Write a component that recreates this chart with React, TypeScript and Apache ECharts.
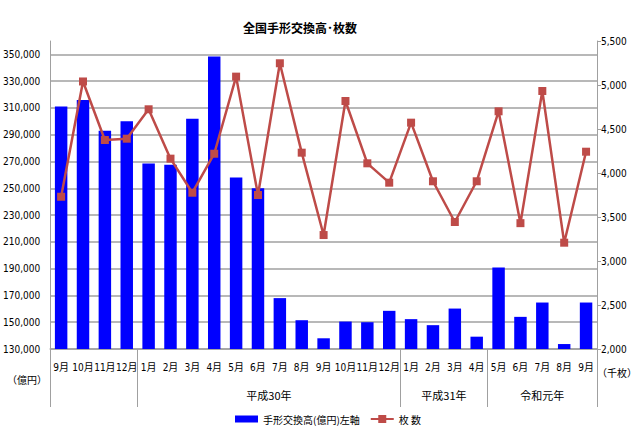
import React, { useEffect, useRef } from 'react';
import * as echarts from 'echarts';

const months = ['9月', '10月', '11月', '12月', '1月', '2月', '3月', '4月', '5月', '6月', '7月', '8月', '9月', '10月', '11月', '12月', '1月', '2月', '3月', '4月', '5月', '6月', '7月', '8月', '9月'];
const amounts = [311000, 316000, 293000, 300000, 268500, 267500, 302000, 348500, 258000, 250000, 168000, 151500, 138000, 150500, 150000, 158500, 152300, 147800, 160200, 139200, 190900, 154000, 164700, 133700, 164700];
const counts = [3730, 5040, 4375, 4390, 4724, 4163, 3776, 4219, 5095, 3750, 5247, 4231, 3295, 4818, 4110, 3890, 4572, 3906, 3443, 3906, 4701, 3430, 4932, 3208, 4242];
const groupLabels = ['', '平成30年', '平成31年', '令和元年'];
const groupStarts = [0, 4, 16, 20];
const groupEnds = [4, 16, 20, 25];

const leftMin = 130000;
const leftMax = 360000;
const leftStep = 20000;
const rightMin = 2000;
const rightMax = 5500;
const rightStep = 500;

const title = '全国手形交換高･枚数';
const barName = '手形交換高(億円)左軸';
const lineName = '枚 数';
const leftUnit = '（億円）';
const rightUnit = '（千枚）';

const FONT = "'Liberation Sans Narrow', 'DejaVu Sans Condensed', 'Noto Sans CJK JP', sans-serif";
const CJK = "'Noto Sans CJK JP', sans-serif";

export default function App() {
  const ref = useRef<HTMLDivElement>(null);
  useEffect(() => {
    document.body.style.margin = '0';
    const chart = echarts.init(ref.current!, null, { renderer: 'svg' });
    const halfCount = months.length * 2 + 1;
    const halfData = Array.from({ length: halfCount }, (_, i) => 'h' + i);
    const labelAt: Record<number, string> = {};
    const boundaries = new Set<number>();
    groupLabels.forEach((g, k) => {
      if (g) labelAt[groupStarts[k] + groupEnds[k]] = g;
      boundaries.add(groupStarts[k] * 2);
      boundaries.add(groupEnds[k] * 2);
    });
    const grey = '#a0a0a0';
    chart.setOption({
      animation: false,
      title: {
        text: title,
        left: 243,
        top: 21,
        padding: 0,
        textStyle: { fontFamily: CJK, fontSize: 12, fontWeight: 'bold', color: '#000' },
      },
      legend: {
        left: 230,
        top: 409,
        itemWidth: 23,
        itemHeight: 10,
        itemGap: 10,
        textStyle: { fontFamily: CJK, fontSize: 10, color: '#000' },
        data: [
          { name: barName, icon: 'path://M0,0h23v7h-23z' },
          { name: lineName },
        ],
      },
      grid: { left: 49, right: 43, top: 41, bottom: 93 },
      xAxis: [
        {
          type: 'category',
          data: months,
          position: 'bottom',
          axisLine: { show: true, lineStyle: { color: grey, width: 1.5 } },
          axisTick: { show: false },
          axisLabel: { interval: 0, margin: 13, fontFamily: FONT, fontSize: 10, color: '#000' },
        },
        {
          type: 'category',
          data: halfData,
          position: 'bottom',
          boundaryGap: false,
          axisLine: { show: false },
          axisTick: {
            show: true,
            length: 58,
            interval: (i: number) => boundaries.has(i),
            lineStyle: { color: grey, width: 1 },
          },
          axisLabel: {
            interval: 0,
            margin: 40,
            fontFamily: CJK,
            fontSize: 11,
            color: '#000',
            formatter: (_v: string, i: number) => labelAt[i] || '',
          },
          splitLine: { show: false },
        },
      ],
      yAxis: [
        {
          type: 'value',
          min: leftMin,
          max: leftMax,
          interval: leftStep,
          axisLine: { show: true, lineStyle: { color: grey, width: 1 } },
          axisTick: { show: false },
          splitLine: { show: true, showMaxLine: false, lineStyle: { color: grey, width: 1.5 } },
          axisLabel: {
            margin: 10,
            fontFamily: FONT,
            fontSize: 10,
            color: '#000',
            showMaxLabel: false,
            formatter: (v: number) => (v === leftMax ? '' : v.toLocaleString('en-US')),
          },
        },
        {
          type: 'value',
          position: 'right',
          min: rightMin,
          max: rightMax,
          interval: rightStep,
          axisLine: { show: true, lineStyle: { color: grey, width: 1 } },
          axisTick: { show: true, length: 4, lineStyle: { color: grey } },
          splitLine: { show: false },
          axisLabel: {
            margin: 4,
            fontFamily: FONT,
            fontSize: 10,
            color: '#000',
            formatter: (v: number) => v.toLocaleString('en-US'),
          },
        },
      ],
      graphic: [
        { type: 'text', left: 7, top: 374, style: { text: leftUnit, font: `10px ${CJK}`, fill: '#000' } },
        { type: 'text', left: 597, top: 367, style: { text: rightUnit, font: `10px ${CJK}`, fill: '#000' } },
      ],
      series: [
        {
          name: barName,
          type: 'bar',
          xAxisIndex: 0,
          yAxisIndex: 0,
          data: amounts,
          barWidth: '57%',
          itemStyle: { color: '#0000FF' },
        },
        {
          name: lineName,
          type: 'line',
          xAxisIndex: 0,
          yAxisIndex: 1,
          data: counts,
          symbol: 'rect',
          symbolSize: 8,
          lineStyle: { color: '#BE4B48', width: 2.5 },
          itemStyle: { color: '#BE4B48' },
        },
      ],
    });
    return () => chart.dispose();
  }, []);
  return <div ref={ref} style={{ width: 640, height: 442 }} />;
}
